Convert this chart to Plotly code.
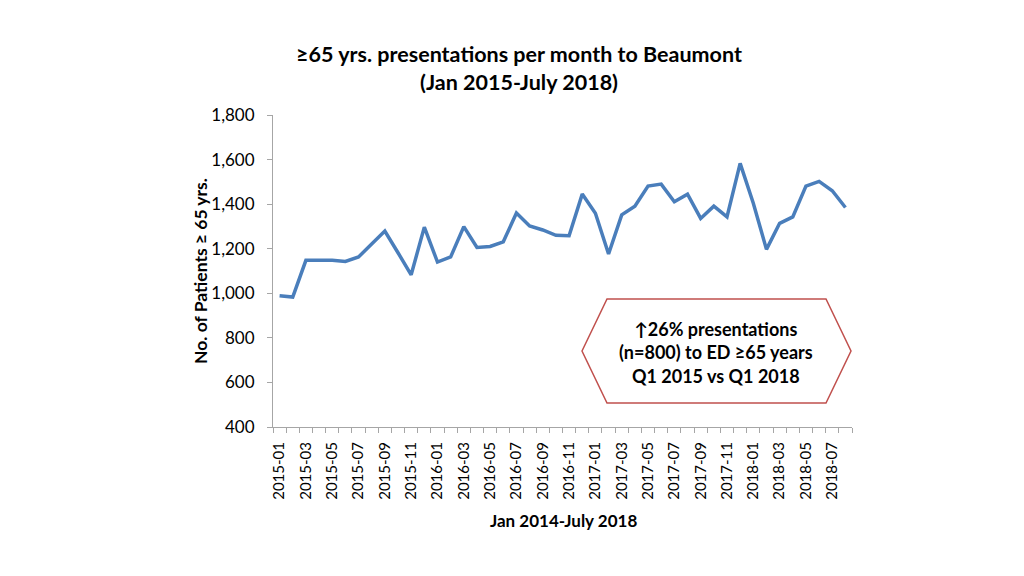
import plotly.graph_objects as go

months = ["2015-01","2015-02","2015-03","2015-04","2015-05","2015-06","2015-07","2015-08","2015-09","2015-10","2015-11","2015-12",
          "2016-01","2016-02","2016-03","2016-04","2016-05","2016-06","2016-07","2016-08","2016-09","2016-10","2016-11","2016-12",
          "2017-01","2017-02","2017-03","2017-04","2017-05","2017-06","2017-07","2017-08","2017-09","2017-10","2017-11","2017-12",
          "2018-01","2018-02","2018-03","2018-04","2018-05","2018-06","2018-07","2018-08"]
presentations = [989, 983, 1148, 1148, 1148, 1143, 1163, 1221, 1279, 1182, 1083, 1297,
                 1140, 1163, 1299, 1206, 1210, 1231, 1360, 1302, 1284, 1260, 1258, 1445,
                 1359, 1176, 1352, 1391, 1481, 1490, 1411, 1445, 1336, 1391, 1343, 1583,
                 1404, 1197, 1314, 1343, 1481, 1502, 1460, 1385]
y_ticks = [400, 600, 800, 1000, 1200, 1400, 1600, 1800]

title_text = "≥65 yrs. presentations per month to Beaumont<br>(Jan 2015-July 2018)"
x_title = "Jan 2014-July 2018"
y_title = "No. of Patients ≥ 65 yrs."
callout_text = "↑26% presentations<br>(n=800) to ED ≥65 years<br>Q1 2015 vs Q1 2018"

FONT = "Lato"
idx = list(range(len(months)))

# page has an 8px body margin; work in figure coordinates
OFF = 8
W, H = 1024 - OFF, 576 - OFF
# plot area in page pixels: x 273..852, y 115..427
PL, PR, PT, PB = 273 - OFF, 852 - OFF, 115 - OFF, 427 - OFF
PW, PH = PR - PL, PB - PT

def px(x):
    return (x - OFF - PL) / PW

def py(y):
    return (PB - (y - OFF)) / PH

fig = go.Figure()
fig.add_trace(go.Scatter(x=idx, y=presentations, mode="lines",
                         line=dict(color="#4A7EBB", width=3.5), showlegend=False))

fig.update_layout(
    width=W, height=H,
    margin=dict(l=PL, r=W - PR, t=PT, b=H - PB, autoexpand=False),
    paper_bgcolor="white", plot_bgcolor="white",
    font=dict(family=FONT, color="#000000"),
    title=dict(text=title_text, x=(519 - OFF) / W, xanchor="center", xref="container",
               y=1 - 54 / H, yanchor="top",
               font=dict(family=FONT, size=21.5, color="#000000", weight="bold")),
)
fig.update_xaxes(
    range=[-0.5, len(months) - 0.5], automargin=False,
    tickmode="array", tickvals=idx[::2], ticktext=months[::2],
    tickangle=-90, tickfont=dict(size=15, family=FONT, color="#000000"),
    ticks="", ticklabelstandoff=8,
    showline=True, linecolor="#A6A6A6", linewidth=1,
    showgrid=False, zeroline=False,
    minor=dict(tickmode="linear", tick0=-0.5, dtick=1, ticks="outside", ticklen=5,
               tickcolor="#A6A6A6", showgrid=False),
)
fig.update_yaxes(
    range=[400, 1800], automargin=False, tickmode="array", tickvals=y_ticks,
    tickformat=",", tickfont=dict(size=17, family=FONT, color="#000000"),
    ticks="outside", ticklen=5, tickcolor="#A6A6A6", ticklabelstandoff=9,
    showline=True, linecolor="#A6A6A6", linewidth=1,
    showgrid=False, zeroline=False,
)

fig.add_annotation(text=f"<b>{x_title}</b>", xref="paper", yref="paper",
                   x=px(563), y=py(520), xanchor="center", yanchor="middle",
                   showarrow=False, font=dict(family=FONT, size=17, color="#000000"))
fig.add_annotation(text=f"<b>{y_title}</b>", xref="paper", yref="paper",
                   x=px(200), y=py(271), xanchor="center", yanchor="middle",
                   textangle=-90, showarrow=False,
                   font=dict(family=FONT, size=17.5, color="#000000"))

# hexagon callout
x0, x1, x2, x3 = px(582), px(607), px(826), px(851)
yt, ym, yb = py(299), py(351), py(403)
path = f"M {x0} {ym} L {x1} {yt} L {x2} {yt} L {x3} {ym} L {x2} {yb} L {x1} {yb} Z"
fig.add_shape(type="path", path=path, xref="paper", yref="paper",
              line=dict(color="#C0504D", width=1.5), fillcolor="white")
fig.add_annotation(text=callout_text, xref="paper", yref="paper",
                   x=px(716), y=py(352), xanchor="center", yanchor="middle",
                   showarrow=False,
                   font=dict(family=FONT, size=18, color="#000000", weight="bold"),
                   align="center")

fig.write_html("out.html")
